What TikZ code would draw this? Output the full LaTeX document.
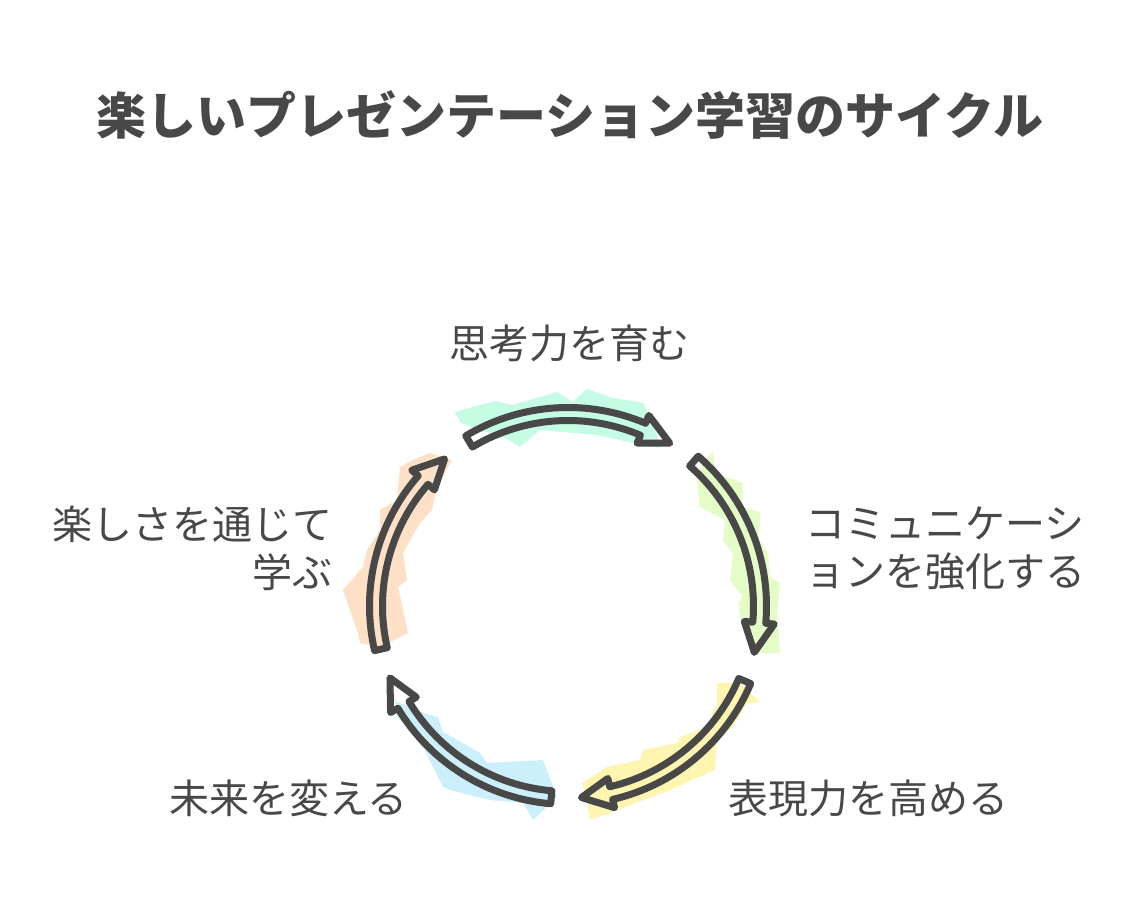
\documentclass[tikz,border=0pt]{standalone}
\usepackage{fontspec}
\setmainfont{Noto Sans CJK JP}
\definecolor{ink}{HTML}{484848}
\definecolor{cmint}{HTML}{C4FCE4}
\definecolor{clime}{HTML}{E4FDC6}
\definecolor{cyell}{HTML}{FDF5B0}
\definecolor{cblue}{HTML}{CCEFFC}
\definecolor{cpeach}{HTML}{FDE0C6}
\tikzset{
  arrowline/.style={draw=ink,line width=7pt,line join=round,line cap=round},
  hl/.style={draw=none},
  lbl/.style={text=ink,font=\fontsize{40}{48}\selectfont,inner sep=0pt},
}
\newcommand\cycarrow[3]{%
  \pgfmathsetmacro\hb{#2+9}%
  \draw[arrowline] (#1:198.5pt) arc[start angle=#1, end angle=\hb, radius=198.5pt]
    -- (\hb:207pt) -- (#2:192pt) -- (\hb:177pt) -- (\hb:185.5pt)
    arc[start angle=\hb, end angle=#1, radius=185.5pt] -- cycle;
  \coordinate (#3) at (#1:192pt);
}
\begin{document}
\begin{tikzpicture}[x=1pt,y=-1pt]
\useasboundingbox[fill=white] (0,0) rectangle (1136,920);
% title
\node[text=ink,font=\fontsize{50}{56}\selectfont\bfseries,inner sep=0pt] (title) at (570,115) {楽しいプレゼンテーション学習のサイクル};
% highlights
\fill[cmint] (455,412) -- (495,401) -- (512,405) -- (557,392) -- (573,402) -- (587,389) -- (613,398) -- (643,403) -- (653,423) -- (660,448) -- (633,443) -- (597,435) -- (540,430) -- (520,447) -- (500,435) -- (477,430) -- (460,422) -- cycle;
\fill[clime] (713,452) -- (716,473) -- (743,483) -- (742,507) -- (760,512) -- (759,540) -- (768,553) -- (770,577) -- (780,583) -- (777,613) -- (780,653) -- (760,653) -- (742,627) -- (738,603) -- (743,597) -- (730,580) -- (733,553) -- (723,540) -- (725,520) -- (700,507) -- (697,480) -- (702,463) -- cycle;
\fill[cyell] (717,683) -- (740,683) -- (760,702) -- (747,703) -- (733,727) -- (717,737) -- (715,770) -- (670,790) -- (617,810) -- (590,820) -- (585,793) -- (582,783) -- (607,767) -- (640,760) -- (643,750) -- (677,743) -- (680,737) -- (707,727) -- (717,703) -- cycle;
\fill[cblue] (392,673) -- (393,700) -- (423,713) -- (438,717) -- (443,732) -- (480,753) -- (487,763) -- (543,760) -- (557,797) -- (533,820) -- (523,803) -- (490,800) -- (450,790) -- (443,787) -- (423,747) -- (413,730) -- (397,717) -- cycle;
\fill[cpeach] (430,453) -- (452,460) -- (437,487) -- (432,510) -- (420,523) -- (403,553) -- (407,580) -- (398,587) -- (408,633) -- (380,647) -- (360,643) -- (358,633) -- (343,590) -- (363,567) -- (367,550) -- (380,530) -- (380,510) -- (397,500) -- (400,467) -- (413,460) -- cycle;
% arrows
\begin{scope}[shift={(568,606)}]
\begin{scope}[y=1pt]
\cycarrow{121}{58}{a1}
\cycarrow{49}{-14}{a2}
\cycarrow{-23}{-86}{a3}
\cycarrow{-95}{-158}{a4}
\cycarrow{-167}{-230}{a5}
\end{scope}
\end{scope}
% labels
\node[lbl,anchor=center] (l1) at (569,343) {思考力を育む};
\node[lbl,anchor=west,align=left] (l2) at (805,548) {コミュニケーシ\\ョンを強化する};
\node[lbl,anchor=west] (l3) at (728,798) {表現力を高める};
\node[lbl,anchor=east] (l4) at (408,798) {未来を変える};
\node[lbl,anchor=east,align=right] (l5) at (333,548) {楽しさを通じて\\学ぶ};
\end{tikzpicture}
\end{document}
